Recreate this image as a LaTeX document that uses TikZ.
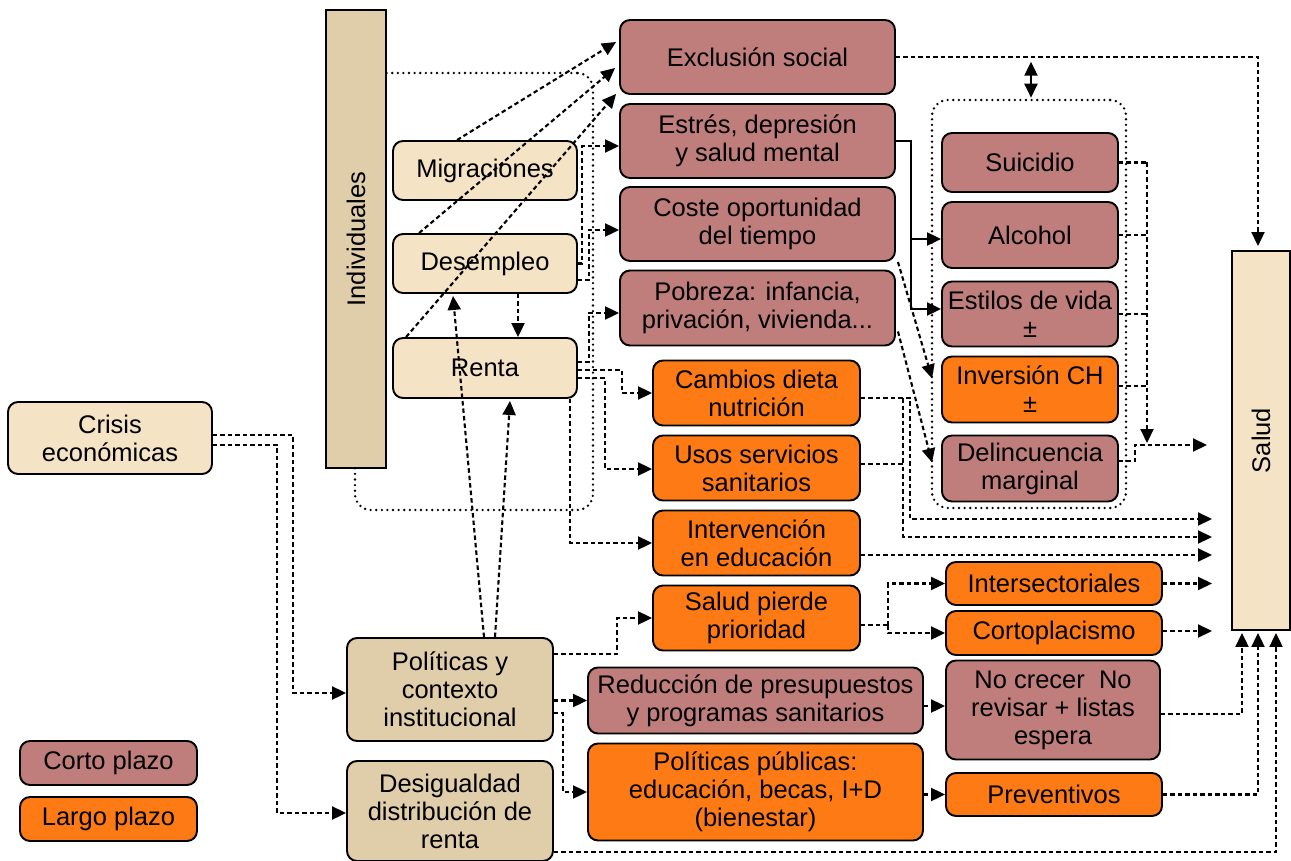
\documentclass[tikz,border=0pt]{standalone}
\usepackage{graphicx}
\usepackage{fontspec}
\setmainfont{Liberation Sans}
\usetikzlibrary{arrows.meta,calc}
\definecolor{beigeL}{HTML}{F5E3C5}
\definecolor{tanB}{HTML}{E0CDAA}
\definecolor{mauve}{HTML}{BF7E7C}
\definecolor{orng}{HTML}{FD7A15}
\begin{document}
\begin{tikzpicture}[x=1pt,y=-1pt,
  sz/.style 2 args={minimum width=#1pt,minimum height=#2pt},
  box/.style={draw=black, line width=1.9pt, rounded corners=10pt, inner sep=0pt,
    align=center, font=\fontsize{25.5}{28}\selectfont},
  light/.style={box, fill=beigeL},
  tanbox/.style={box, fill=tanB},
  short/.style={box, fill=mauve},
  long/.style={box, fill=orng},
  conn/.style={line width=2.1pt, dash pattern=on 4.5pt off 3pt, -{Triangle[length=14pt,width=13pt]}},
  link/.style={line width=2.1pt, dash pattern=on 4.5pt off 3pt},
  solidarrow/.style={line width=2.1pt, -{Triangle[length=14pt,width=13pt]}},
  dblarrow/.style={line width=2.1pt, {Triangle[length=14pt,width=13pt]}-{Triangle[length=14pt,width=13pt]}},
  group/.style={draw, line width=2.6pt, dash pattern=on 0pt off 5.6pt, line cap=round,
    rounded corners=16pt, inner sep=0pt},
]
\useasboundingbox (0,0) rectangle (1291,861);

% groupings
\node[group, sz={238}{437}] (grpI) at (474,291.5) {};
\node[group, sz={194}{408}] (grpR) at (1029,304) {};

% left column
\node[light, sz={204}{72}] (crisis) at (110,438) {Crisis\\económicas};
\node[tanbox, sharp corners, line width=2.3pt, sz={60}{458}] (ind) at (356,239) {\rotatebox{90}{Individuales}};
\node[light, sz={184}{59}] (migr) at (485,170.5) {Migraciones};
\node[light, sz={184}{59}] (desem) at (485,263.5) {Desempleo};
\node[light, sz={184}{60}] (renta) at (485,368) {Renta};
\node[tanbox, sz={206}{103}] (polit) at (450,689.5) {Políticas y\\contexto\\institucional};
\node[tanbox, sz={206}{100}] (desig) at (450,811) {Desigualdad\\distribución de\\renta};
\node[short, sz={177}{44}] (legS) at (108.5,763) {Corto plazo};
\node[long, sz={177}{44}] (legL) at (108.5,819) {Largo plazo};

% middle column
\node[short, sz={275}{74}] (excl) at (757.5,57) {Exclusión social};
\node[short, sz={275}{74}] (estres) at (757.5,141) {Estrés, depresión\\y salud mental};
\node[short, sz={275}{74}] (coste) at (757.5,224) {Coste oportunidad\\del tiempo};
\node[short, sz={275}{75}] (pobreza) at (757.5,308) {Pobreza: infancia,\\privación, vivienda...};
\node[long, sz={207}{65}] (dieta) at (756.5,393) {Cambios dieta\\nutrición};
\node[long, sz={207}{65}] (usos) at (756.5,468) {Usos servicios\\sanitarios};
\node[long, sz={207}{65}] (interv) at (756.5,543) {Intervención\\en educación};
\node[long, sz={207}{65}] (salpier) at (756.5,618) {Salud pierde\\prioridad};
\node[short, sz={335}{66}] (reduc) at (755.5,700.5) {Reducción de presupuestos\\y programas sanitarios};
\node[long, sz={335}{97}] (polpub) at (755.5,792) {Políticas públicas:\\educación, becas, I+D\\(bienestar)};

% right column
\node[short, sz={176}{59}] (suic) at (1030,162.5) {Suicidio};
\node[short, sz={176}{66}] (alcoh) at (1030,235) {Alcohol};
\node[short, sz={176}{65}] (estil) at (1030,314) {Estilos de vida\\±};
\node[long, sz={176}{66}] (invch) at (1030,389.5) {Inversión CH\\±};
\node[short, sz={176}{66}] (delinc) at (1030,468.5) {Delincuencia\\marginal};
\node[long, sz={216}{43}] (inters) at (1054,583.5) {Intersectoriales};
\node[long, sz={216}{44}] (cortop) at (1054,633) {Cortoplacismo};
\node[short, sz={214}{99}] (nocrec) at (1053,710) {No crecer~~No\\revisar + listas\\espera};
\node[long, sz={216}{43}] (prevent) at (1054,794.5) {Preventivos};
\node[light, sharp corners, sz={58}{379}] (salud) at (1261,440.5) {\rotatebox{90}{Salud}};

% loose ends pointing at Salud
\coordinate (sin) at (1212,0);
\coordinate (sin2) at (1207,0);
\coordinate (jn) at (1147,0);

% crisis
\draw[conn] (crisis.east |- 0,435) -- (293,435) |- (polit.west |- 0,693);
\draw[conn] (crisis.east |- 0,445) -- (277,445) |- (desig.west |- 0,813);

% individual factors to exclusion
\draw[conn] ($(migr.north west)+(65,0)$) -- ($(excl.west)+(-3,-15)$);
\draw[conn] ($(desem.north west)+(27,0)$) -- ($(excl.west)+(-4,11)$);
\draw[conn] ($(renta.north west)+(14,0)$) -- ($(excl.south west)+(-3,-1)$);

% individual factors to short-term effects
\draw[conn] (desem.east) -- (582,263.5) |- (estres.west |- 0,146);
\draw[conn] (desem.east |- 0,280) -- (589,280) |- (coste.west |- 0,230);
\draw[conn] (renta.east |- 0,362) -- (589,362) |- (pobreza.west |- 0,313);
\draw[conn] (renta.east |- 0,370) -- (622,370) |- (dieta.west);
\draw[conn] (renta.east |- 0,378) -- (605,378) |- (usos.west |- 0,469);
\draw[conn] ($(renta.south east)+(-8,0)$) |- (interv.west);
\draw[conn] ($(desem.south)+(33,0)$) -- ($(renta.north)+(33,0)$);

% policies
\draw[conn] ($(polit.north)+(34,0)$) -- ($(desem.south)+(-32,2)$);
\draw[conn] ($(polit.north)+(45,0)$) -- ($(renta.south)+(25,2)$);
\draw[conn] (polit.east |- 0,654) -- (617,654) |- (salpier.west);
\draw[conn] (polit.east |- reduc.west) -- (reduc.west);
\draw[conn] (polit.east |- 0,713) -- (563,713) |- (polpub.west);

% to Salud from below
\draw[conn] (desig.east |- 0,852) -| ($(salud.south)+(15,2)$);
\draw[conn] (nocrec.east |- 0,714) -| ($(salud.south)+(-19,2)$);
\draw[conn] (prevent.east) -| ($(salud.south)+(-3,2)$);
\draw[conn] (reduc.east |- 0,706) -- (nocrec.west |- 0,706);
\draw[conn] (polpub.east |- prevent.west) -- (prevent.west);

% salud pierde prioridad
\draw[link] (salpier.east |- 0,625) -- (888,625);
\draw[conn] (888,625) |- (inters.west);
\draw[conn] (888,625) |- (cortop.west);
\draw[conn] (inters.east) -- (inters.east -| sin);
\draw[conn] (cortop.east |- 0,631) -- (sin |- 0,631);

% exclusion to Salud and to the group
\draw[conn] (excl.east) -| ($(salud.north)+(-3,-4)$);
\draw[dblarrow] ($(grpR.north)+(2,-1)$) -- ($(grpR.north)+(2,-37)$);

% stress to lifestyle
\draw[line width=2.1pt] (estres.east |- 0,141) -- (911,141) -- (911,239);
\draw[solidarrow] (911,239) -- (alcoh.west |- 0,239);
\draw[solidarrow] (911,239) |- (estil.west |- 0,309);
\draw[conn] ($(coste.south east)+(2,0)$) -- ($(invch.west)+(-9,-11)$);
\draw[conn] ($(pobreza.south east)+(2,-15)$) -- ($(delinc.west)+(-9,-6)$);

% long-term effects to Salud
\draw[conn] (dieta.east |- 0,398) -- (910,398) |- (sin |- 0,519);
\draw[link] (903,398) -- (903,464);
\draw[conn] (usos.east |- 0,464) -- (903,464) |- (sin |- 0,537);
\draw[conn] (interv.east |- 0,555) -- (sin |- 0,555);

% lifestyle group to Salud
\draw[link] (suic.east) -- (suic.east -| jn);
\draw[link] (alcoh.east) -- (alcoh.east -| jn);
\draw[link] (estil.east) -- (estil.east -| jn);
\draw[link] (invch.east |- 0,386) -- (jn |- 0,386);
\draw[conn] (suic.east -| jn) -- (jn |- 0,443);
\draw[conn] (delinc.east |- 0,461) -- (1135,461) |- (sin2 |- 0,445);
\end{tikzpicture}
\end{document}
